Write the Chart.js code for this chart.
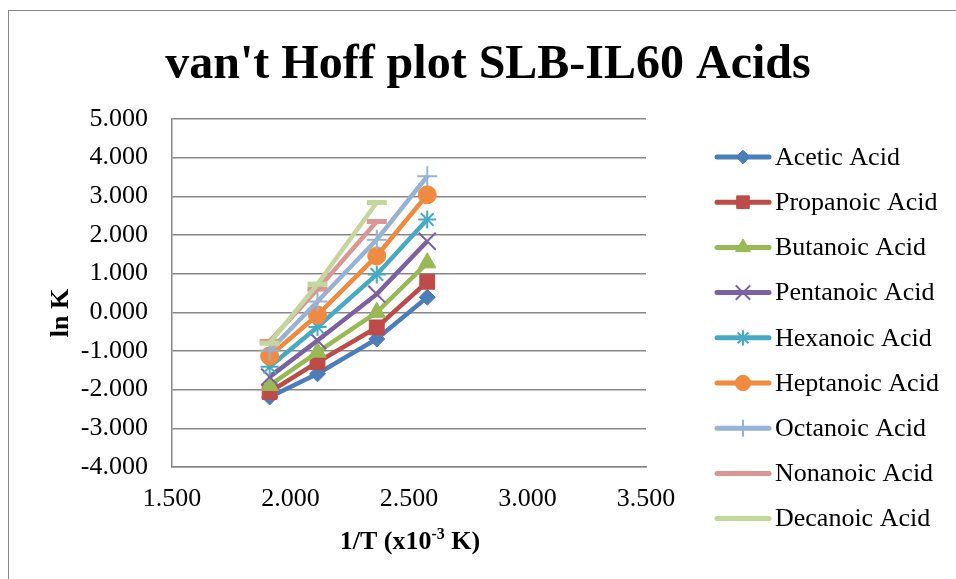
<!DOCTYPE html>
<html>
<head>
<meta charset="utf-8">
<script src="https://cdn.jsdelivr.net/npm/chart.js@4/dist/chart.umd.min.js"></script>
<style>
  html, body { margin: 0; padding: 0; background: #fff; }
  #wrap { width: 956px; height: 579px; }
</style>
</head>
<body>
<div id="wrap"><canvas id="myChart" width="956" height="579"></canvas></div>
<script>
// 1/T values (x10^-3 K) for the four column temperatures
const invT = [1.912, 2.114, 2.364, 2.577];

// ln K for each acid
const acetic = [-2.19, -1.59, -0.69, 0.39];
const propanoic = [-2.06, -1.29, -0.39, 0.79];
const butanoic = [-1.89, -1.03, 0.00, 1.28];
const pentanoic = [-1.67, -0.73, 0.47, 1.84];
const hexanoic = [-1.41, -0.38, 0.98, 2.40];
const heptanoic = [-1.13, -0.07, 1.46, 3.04];
const octanoic = [-0.99, 0.28, 1.88, 3.52];
const nonanoic = [-0.75, 0.60, 2.35];
const decanoic = [-0.80, 0.73, 2.84];

const seriesNames = ['Acetic Acid', 'Propanoic Acid', 'Butanoic Acid', 'Pentanoic Acid',
  'Hexanoic Acid', 'Heptanoic Acid', 'Octanoic Acid', 'Nonanoic Acid', 'Decanoic Acid'];
const seriesValues = [acetic, propanoic, butanoic, pentanoic, hexanoic, heptanoic, octanoic, nonanoic, decanoic];

const xTicks = [1.5, 2.0, 2.5, 3.0, 3.5];
const yTicks = [-4, -3, -2, -1, 0, 1, 2, 3, 4, 5];

const colors = ['#4A7EBB', '#BE4B48', '#98B954', '#7D60A0', '#46AAC5', '#F08A3E', '#95B3D7', '#D99694', '#C3D69B'];
const markers = [
  { style: 'rectRot', radius: 8, border: 1 },
  { style: 'rect', radius: 10.5, border: 1 },
  { style: 'triangle', radius: 10, border: 1 },
  { style: 'crossRot', radius: 12, border: 2 },
  { style: 'star', radius: 9, border: 2 },
  { style: 'circle', radius: 9, border: 1 },
  { style: 'cross', radius: 10, border: 2 },
  { style: 'line', radius: 10, border: 5 },
  { style: 'line', radius: 10, border: 5 },
];

const serif = "'Liberation Serif', 'Times New Roman', serif";

const datasets = seriesNames.map(function (name, i) {
  return {
    label: name,
    data: seriesValues[i].map(function (v, j) { return { x: invT[j], y: v }; }),
    borderColor: colors[i],
    backgroundColor: colors[i],
    borderWidth: 4.5,
    pointStyle: markers[i].style,
    pointRadius: markers[i].radius,
    pointBorderWidth: markers[i].border,
    pointBackgroundColor: colors[i],
    pointBorderColor: colors[i],
    order: seriesNames.length - i,
  };
});

// title, axis titles, legend and outer frame
const decorations = {
  id: 'decorations',
  afterDraw(chart) {
    const ctx = chart.ctx;
    ctx.save();

    ctx.strokeStyle = '#878787';
    ctx.lineWidth = 1;
    ctx.strokeRect(8.5, 10.5, 980, 600);

    ctx.fillStyle = '#000';
    ctx.textAlign = 'center';
    ctx.textBaseline = 'alphabetic';
    ctx.font = 'bold 48px ' + serif;
    ctx.fillText("van't Hoff plot SLB-IL60 Acids", 488, 78);

    // y axis title
    ctx.save();
    ctx.translate(61, 313);
    ctx.rotate(-Math.PI / 2);
    ctx.font = 'bold 26px ' + serif;
    ctx.textBaseline = 'middle';
    ctx.fillText('ln K', 0, 0);
    ctx.restore();

    // x axis title with superscript
    const parts = [['1/T (x10', 26, 0], ['-3', 16, -10], [' K)', 26, 0]];
    let total = 0;
    parts.forEach(function (p) {
      ctx.font = 'bold ' + p[1] + 'px ' + serif;
      total += ctx.measureText(p[0]).width;
    });
    let x = 410 - total / 2;
    ctx.textAlign = 'left';
    parts.forEach(function (p) {
      ctx.font = 'bold ' + p[1] + 'px ' + serif;
      ctx.fillText(p[0], x, 549 + p[2]);
      x += ctx.measureText(p[0]).width;
    });

    // legend
    chart.data.datasets.forEach(function (ds, i) {
      const y = 157 + i * 45.2;
      ctx.strokeStyle = ds.borderColor;
      ctx.lineWidth = 5;
      ctx.lineCap = 'round';
      ctx.beginPath();
      ctx.moveTo(717, y);
      ctx.lineTo(769, y);
      ctx.stroke();
      ctx.lineCap = 'butt';
      ctx.fillStyle = ds.borderColor;
      ctx.lineWidth = ds.pointBorderWidth;
      Chart.helpers.drawPoint(ctx, {
        pointStyle: ds.pointStyle,
        radius: ds.pointRadius * 0.85,
        rotation: 0,
        borderWidth: ds.pointBorderWidth,
      }, 743, y);
      ctx.fillStyle = '#000';
      ctx.font = '26px ' + serif;
      ctx.textBaseline = 'middle';
      ctx.fillText(ds.label, 775, y + 1);
    });

    ctx.restore();
  },
};

let ctx = document.getElementById('myChart').getContext('2d');
window.myLine = new Chart(ctx, {
  type: 'line',
  data: { datasets: datasets },
  options: {
    responsive: false,
    animation: false,
    layout: { padding: { top: 119, right: 310, left: 0, bottom: 0 } },
    plugins: {
      legend: { display: false },
      title: { display: false },
      tooltip: { enabled: false },
    },
    scales: {
      x: {
        type: 'linear',
        min: 1.5,
        max: 3.5,
        afterBuildTicks(scale) { scale.ticks = xTicks.map(function (v) { return { value: v }; }); },
        afterFit(scale) { scale.height = 112; },
        ticks: {
          color: '#000',
          font: { family: serif, size: 26 },
          padding: 17,
          maxRotation: 0,
          callback: function (v) { return Number(v).toFixed(3); },
        },
        grid: { display: false, drawTicks: false },
        border: { display: true, color: '#888', width: 1.5 },
      },
      y: {
        min: -4,
        max: 5,
        afterBuildTicks(scale) { scale.ticks = yTicks.map(function (v) { return { value: v }; }); },
        afterFit(scale) { scale.width = 172; },
        ticks: {
          color: '#000',
          font: { family: serif, size: 26 },
          padding: 24,
          callback: function (v) { return Number(v).toFixed(3); },
        },
        grid: { color: '#888', lineWidth: 1.5, drawTicks: false },
        border: { display: true, color: '#888', width: 1.5 },
      },
    },
  },
  plugins: [decorations],
});
</script>
</body>
</html>
